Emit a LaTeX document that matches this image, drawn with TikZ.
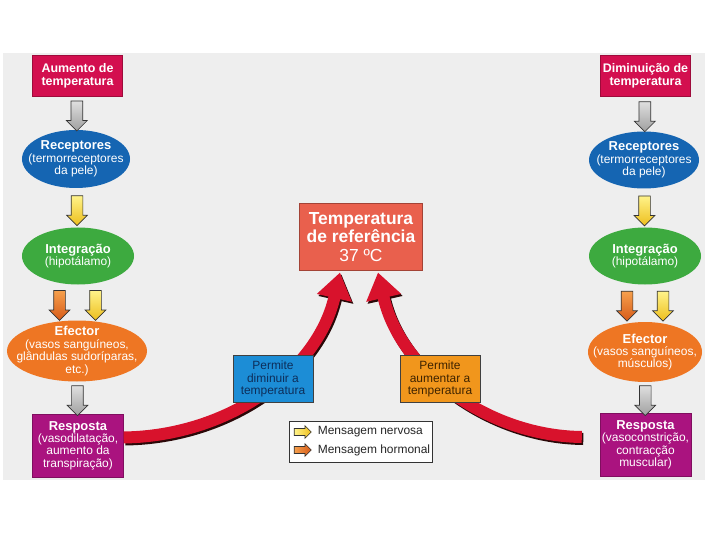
\documentclass[tikz,border=0pt]{standalone}
\usepackage{fontspec}
\setmainfont{Liberation Sans}
\usepackage{tikz}
\usetikzlibrary{arrows.meta,positioning,shapes.geometric,shapes.arrows}
\definecolor{paper}{HTML}{EEEEEE}
\definecolor{crimson}{HTML}{D30F4F}
\definecolor{ocean}{HTML}{1565B2}
\definecolor{leaf}{HTML}{3DAA3F}
\definecolor{tangerine}{HTML}{EE7623}
\definecolor{plum}{HTML}{AA137F}
\definecolor{tomato}{HTML}{E9604D}
\definecolor{signal}{HTML}{D8122C}
\definecolor{soot}{HTML}{2A0808}
\definecolor{sky}{HTML}{1C8DD6}
\definecolor{amber}{HTML}{F1961C}
\definecolor{navy}{HTML}{0D2E5A}
\definecolor{umber}{HTML}{3E2300}
\definecolor{nervetop}{HTML}{FFF38A}
\definecolor{nervebot}{HTML}{EDBE1C}
\definecolor{hormtop}{HTML}{F6A04D}
\definecolor{hormbot}{HTML}{D65A18}
\newcommand{\stage}[6]{
  \node[ellipse,fill=#3,minimum width=#4bp,minimum height=#5bp] (#1) at #2 {};
  \node[text=white] (#1txt) at (#1) {#6};
}
\newcommand{\hd}[1]{\textbf{\fontsize{13}{13.5}\selectfont #1}\\}

\begin{document}
\begin{tikzpicture}[x=1bp,y=-1bp,>=Latex,
  every node/.style={inner sep=0pt,align=center,font=\fontsize{12}{12.5}\selectfont},
  alarm/.style={rectangle,fill=crimson,draw=crimson!75!black,text=white,
    minimum width=90bp,minimum height=41bp,font=\bfseries\fontsize{12.5}{13}\selectfont},
  reply/.style={rectangle,fill=plum,draw=plum!75!black,text=white,
    minimum width=91bp,minimum height=63bp},
  blockdown/.style={single arrow,shape border rotate=270,draw=black!80,line width=0.7bp,
    inner sep=5.5bp,minimum height=30bp,minimum width=20bp,single arrow head extend=4.5bp},
  dull/.style={blockdown,top color=gray!25,bottom color=gray!75},
  nerve/.style={blockdown,top color=nervetop,bottom color=nervebot},
  hormone/.style={blockdown,top color=hormtop,bottom color=hormbot},
  keyarrow/.style={single arrow,draw=black!80,line width=0.6bp,inner sep=3.2bp,
    minimum height=17bp,minimum width=12bp,single arrow head extend=2.8bp},
  bigarrow/.style={line width=12bp,-{Triangle[length=26bp,width=34bp]}},
  hint/.style={rectangle,draw=black!75,minimum width=80bp,minimum height=47bp}]

  \useasboundingbox (0,0) rectangle (720,540);
  \fill[white] (0,0) rectangle (720,540);
  \fill[paper] (3,53) rectangle (705,480);

  % left column
  \node[alarm] (riseT) at (77.5,75.5) {Aumento de\\temperatura};
  \stage{recL}{(76,159)}{ocean}{108}{58}{\hd{Receptores}(termorreceptores\\da pele)}
  \stage{intL}{(78,256)}{leaf}{112}{57}{\hd{Integração}(hipotálamo)}
  \stage{effL}{(77,351)}{tangerine}{140}{61}{\hd{Efector}(vasos sanguíneos,\\glândulas sudoríparas,\\etc.)}
  \node[reply] (respL) at (78,445.5) {\hd{Resposta}(vasodilatação,\\aumento da\\transpiração)};

  % right column
  \node[alarm] (fallT) at (645.5,75.5) {Diminuição de\\temperatura};
  \stage{recR}{(644,160)}{ocean}{110}{57}{\hd{Receptores}(termorreceptores\\da pele)}
  \stage{intR}{(645,256)}{leaf}{112}{57}{\hd{Integração}(hipotálamo)}
  \stage{effR}{(645,352)}{tangerine}{114}{60}{\hd{Efector}(vasos sanguíneos,\\músculos)}
  \node[reply] (respR) at (645.5,445) {\hd{Resposta}(vasoconstrição,\\contracção\\muscular)};

  % block arrows
  \path (riseT) -- node[dull] (gL1) {} (recL);
  \path (recL) -- node[nerve] (yL1) {} (intL);
  \path ([xshift=-18bp]intL.south) -- node[hormone] (oL) {} ([xshift=-18bp]effL.north);
  \path ([xshift=18bp]intL.south) -- node[nerve] (yL2) {} ([xshift=18bp]effL.north);
  \path (effL) -- node[dull] (gL2) {} (respL);
  \path (fallT) -- node[dull] (gR1) {} (recR);
  \path (recR) -- node[nerve] (yR1) {} (intR);
  \path ([xshift=-18bp]intR.south) -- node[hormone] (oR) {} ([xshift=-18bp]effR.north);
  \path ([xshift=18bp]intR.south) -- node[nerve] (yR2) {} ([xshift=18bp]effR.north);
  \path (effR) -- node[dull] (gR2) {} (respR);

  % set point
  \node[rectangle,fill=tomato,draw=tomato!70!black,line width=1bp,text=white,
    minimum width=123bp,minimum height=66bp,
    font=\bfseries\fontsize{17.5}{18.5}\selectfont] (temp) at (361,237)
    {Temperatura\\de referência\\{\mdseries 37 ºC}};

  \coordinate (lfoot) at ([yshift=8bp]respL.east);
  \coordinate (rfoot) at ([xshift=-18bp,yshift=8bp]respR.west);
  \coordinate (ltip) at ([xshift=-21bp,yshift=-2bp]temp.south);
  \coordinate (rtip) at ([xshift=17bp,yshift=-2bp]temp.south);

  \draw[bigarrow,soot,transform canvas={shift={(1.5bp,-2bp)}}]
    (lfoot) .. controls +(106,-1.5) and +(-22,98) .. (ltip);
  \draw[bigarrow,soot,transform canvas={shift={(1.5bp,-2bp)}}]
    (rfoot) .. controls +(-94,-1) and +(22,98) .. (rtip);
  \draw[bigarrow,signal] (lfoot) .. controls +(106,-1.5) and +(-22,98) .. (ltip);
  \draw[bigarrow,signal] (rfoot) .. controls +(-94,-1) and +(22,98) .. (rtip);

  \node[hint,fill=sky,text=navy] (cool) at (273,379) {Permite\\diminuir a\\temperatura};
  \node[hint,fill=amber,text=umber] (warm) at (440,379) {Permite\\aumentar a\\temperatura};

  % legend
  \node[draw=black!80,fill=white,minimum width=143bp,minimum height=41bp] (key) at (360.5,441.5) {};
  \node[keyarrow,left color=nervetop,right color=nervebot] (keyN) at (301,432) {};
  \node[right=6bp of keyN,text=black!85] (keyNt) {Mensagem nervosa};
  \node[keyarrow,left color=hormtop,right color=hormbot] (keyH) at (301,450) {};
  \node[right=6bp of keyH,text=black!85] (keyHt) {Mensagem hormonal};
\end{tikzpicture}
\end{document}
